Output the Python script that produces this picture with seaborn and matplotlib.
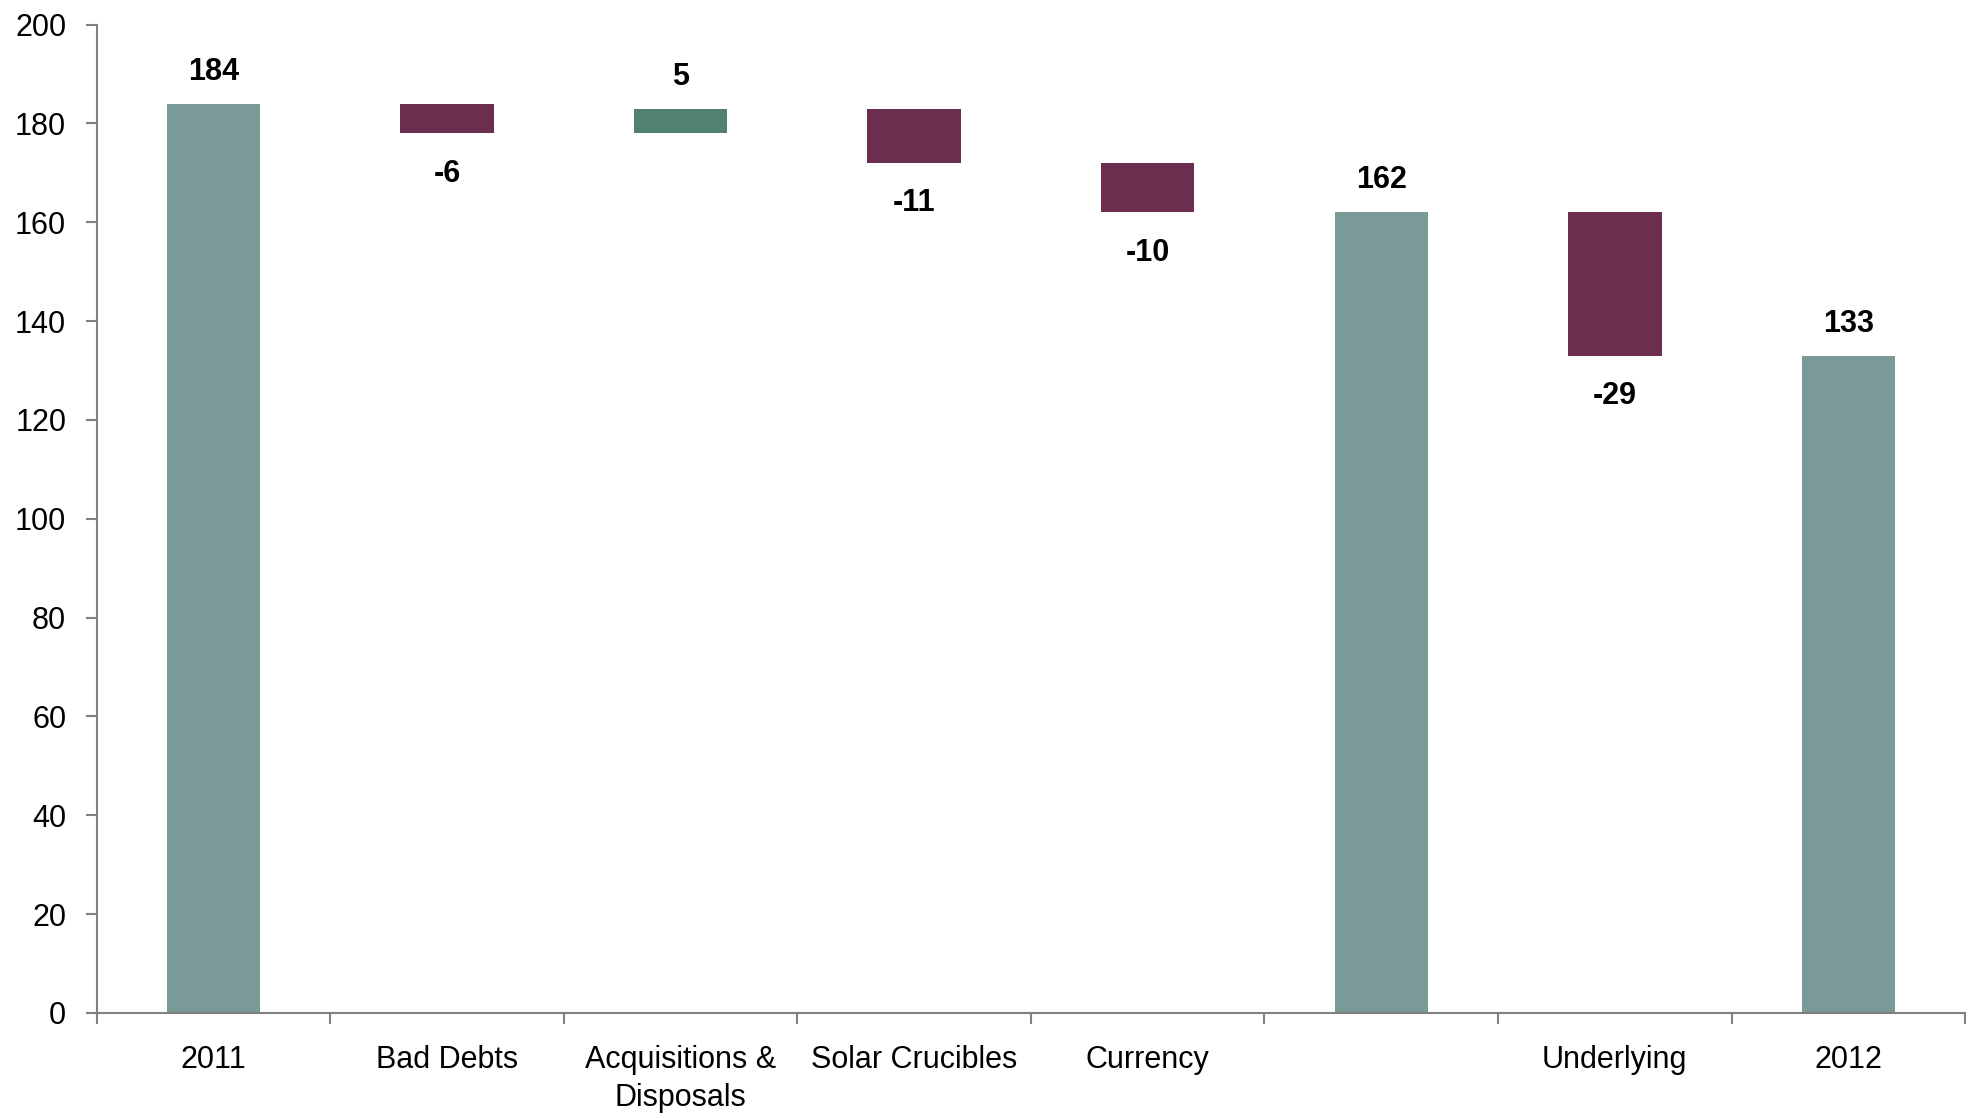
import matplotlib
matplotlib.use("Agg")
import matplotlib.pyplot as plt
import numpy as np
import pandas as pd
import seaborn as sns

# Waterfall data
categories = ["2011", "Bad Debts", "Acquisitions &\nDisposals", "Solar Crucibles",
              "Currency", " ", "Underlying", "2012"]
changes = [184, -6, 5, -11, -10, 162, -29, 133]
is_total = [True, False, False, False, False, True, False, True]

TOTAL = "#7a9a97"
NEG = "#6b2e4e"
POS = "#52826f"

# Build bottoms / heights for the waterfall
bottoms, heights, colors = [], [], []
running = 0
for val, tot in zip(changes, is_total):
    if tot:
        bottoms.append(0)
        heights.append(val)
        colors.append(TOTAL)
        running = val
    else:
        top = running + val
        bottoms.append(min(running, top))
        heights.append(abs(val))
        colors.append(NEG if val < 0 else POS)
        running = top

df = pd.DataFrame({"cat": categories, "height": heights})

sns.set_style("white")
plt.rcParams["font.family"] = ["Liberation Sans Narrow", "Liberation Sans", "DejaVu Sans"]
plt.rcParams["text.color"] = "black"
plt.rcParams["xtick.color"] = "black"
plt.rcParams["ytick.color"] = "black"

fig = plt.figure(figsize=(19.75, 11.18), dpi=100)
ax = fig.add_axes([0.049, 0.094, 0.946, 0.884])

sns.barplot(data=df, x="cat", y="height", order=categories, bottom=np.array(bottoms),
            color=TOTAL, saturation=1, width=0.4, errorbar=None, ax=ax, linewidth=0)
for patch, c in zip(ax.patches, colors):
    patch.set_facecolor(c)
    patch.set_edgecolor(c)

# Value labels
for i, (val, tot, b, h) in enumerate(zip(changes, is_total, bottoms, heights)):
    if tot or val > 0:
        ax.annotate(f"{val}", (i, b + h), xytext=(0, 23), textcoords="offset points",
                    ha="center", va="center", fontsize=22, fontweight="bold")
    else:
        ax.annotate(f"{val}", (i, b), xytext=(0, -29), textcoords="offset points",
                    ha="center", va="center", fontsize=22, fontweight="bold")

# Axes styling
ax.set_ylim(0, 200)
ax.set_xlim(-0.5, len(categories) - 0.5)
ax.set_yticks(np.arange(0, 201, 20))
ax.set_xlabel("")
ax.set_ylabel("")
ax.set_xticks(range(len(categories)))
ax.set_xticklabels(categories, linespacing=1.35)
ax.set_xticks(np.arange(-0.5, len(categories), 1.0), minor=True)

for side in ["top", "right"]:
    ax.spines[side].set_visible(False)
for side in ["left", "bottom"]:
    ax.spines[side].set_color("#808080")
    ax.spines[side].set_linewidth(1.5)

ax.tick_params(axis="y", which="major", direction="out", length=8, width=1.5,
               color="#808080", labelcolor="black", labelsize=22, pad=14, left=True)
ax.tick_params(axis="x", which="major", length=0, labelsize=22, labelcolor="black", pad=23)
ax.tick_params(axis="x", which="minor", direction="out", length=8, width=1.5,
               color="#808080", bottom=True)

fig.savefig("out.png", dpi=100)
